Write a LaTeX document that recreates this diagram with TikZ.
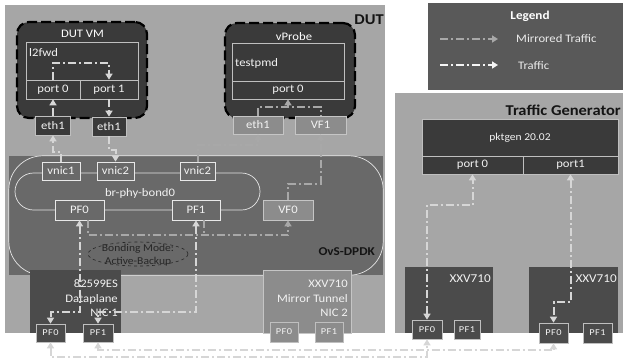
\documentclass[tikz,border=0pt]{standalone}
\usepackage{fontspec}
\setmainfont[FakeStretch=1.1]{Carlito}
\newfontfamily\pffont[FakeStretch=1.15,LetterSpace=6]{Carlito}
\usetikzlibrary{arrows.meta,calc,shapes.geometric}
\definecolor{bglight}{HTML}{A6A6A6}
\definecolor{ovsgray}{HTML}{696969}
\definecolor{darkbox}{HTML}{3A3A3A}
\definecolor{nicdark}{HTML}{4B4B4B}
\definecolor{midbox}{HTML}{8C8C8C}
\definecolor{legendgray}{HTML}{595959}
\definecolor{boxline}{HTML}{BFBFBF}
\definecolor{trafficc}{HTML}{D6D6D6}
\definecolor{mirrorc}{HTML}{A8A8A8}
\definecolor{txtlight}{HTML}{F2F2F2}
\tikzset{
  tri/.tip={Triangle[length=6pt,width=7pt]},
  panel/.style={draw=none, inner sep=0pt},
  base/.style={draw=boxline, line width=0.7pt, inner sep=0pt, text=txtlight,
    font=\fontsize{11.5}{13}\selectfont},
  dbox/.style={base, fill=darkbox},
  nbox/.style={base, fill=nicdark},
  mbox/.style={base, fill=midbox, draw=boxline!90!white},
  obox/.style={base, fill=ovsgray, draw=white!82!gray},
  pfbox/.style={base, font=\pffont\fontsize{9}{10}\selectfont},
  vmbox/.style={draw=black, line width=2.2pt, dash pattern=on 10pt off 4pt,
    fill=darkbox, rounded corners=12pt, inner sep=0pt},
  hdr/.style={font=\bfseries\fontsize{15}{17}\selectfont, text=black!92, inner sep=0pt},
  ltxt/.style={text=txtlight, font=\fontsize{11.5}{13}\selectfont, inner sep=0pt},
  trf/.style={draw=trafficc, line width=2pt, dash pattern=on 8pt off 3pt on 2pt off 3pt},
  mir/.style={draw=mirrorc, line width=2pt, dash pattern=on 8pt off 3pt on 2pt off 3pt},
}
\begin{document}
\begin{tikzpicture}[x=1pt,y=-1pt]
\useasboundingbox (0,0) rectangle (623,360);
\fill[white] (0,0) rectangle (623,360);

% panels
\node[panel, fill=bglight, minimum width=380pt, minimum height=328pt] (dut) at (195,169) {};
\node[panel, fill=legendgray, minimum width=202pt, minimum height=87pt] (legend) at (529,46.5) {};
\node[panel, fill=bglight, minimum width=235pt, minimum height=240pt] (tg) at (512.5,213) {};

\node[hdr, anchor=east] (dutlbl) at (384,20) {DUT};
\node[hdr, anchor=east] (tglbl) at (621,110) {Traffic Generator};

% legend
\node[font=\bfseries\fontsize{12}{13}\selectfont, text=white, inner sep=0pt] (legtitle) at (530,16) {Legend};
\coordinate (lmA) at (440,39);
\coordinate (lmB) at (498,39);
\coordinate (ltA) at (440,65);
\coordinate (ltB) at (498,65);
\draw[mir, -tri] (lmA) -- (lmB);
\draw[trf, draw=white!92!gray, -tri] (ltA) -- (ltB);
\node[ltxt, text=white!85!gray, anchor=west] (lmtxt) at (516,39) {Mirrored Traffic};
\node[ltxt, text=white!85!gray, anchor=west] (lttxt) at (518,66) {Traffic};

% DUT VM
\node[vmbox, minimum width=130pt, minimum height=96pt] (vm) at (82,70) {};
\node[ltxt, text=white] (vmlbl) at (82.5,34) {DUT VM};
\node[dbox, minimum width=112pt, minimum height=38pt] (l2fwd) at (82,61) {};
\node[ltxt, anchor=west] (l2lbl) at (29,53) {l2fwd};
\node[dbox, minimum width=54pt, minimum height=19pt] (vp0) at (53,89.5) {port 0};
\node[dbox, minimum width=58pt, minimum height=19pt] (vp1) at (109,89.5) {port 1};
\node[dbox, minimum width=35pt, minimum height=19pt] (eth1a) at (53,125.5) {eth1};
\node[dbox, minimum width=34pt, minimum height=19pt] (eth1b) at (109,126.5) {eth1};

% vProbe
\node[vmbox, minimum width=130pt, minimum height=95pt] (vprobe) at (290,70.5) {};
\node[ltxt, text=white] (vplbl) at (294,37) {vProbe};
\node[dbox, minimum width=112pt, minimum height=38pt] (testpmd) at (288,62) {};
\node[ltxt, anchor=west] (tplbl) at (235,63) {testpmd};
\node[dbox, minimum width=112pt, minimum height=18pt] (vport0) at (288,90) {port 0};
\node[mbox, minimum width=50pt, minimum height=18pt] (veth1) at (258,125) {eth1};
\node[mbox, minimum width=51pt, minimum height=18pt] (vf1) at (320.5,125) {VF1};

% OvS-DPDK
\node[panel, fill=ovsgray, minimum width=374pt, minimum height=119pt] (ovs) at (196,215.5) {};
\draw[white!80!gray, line width=0.7pt, rounded corners=34pt] (ovs.north west) rectangle (ovs.south east);
\node[draw=white!80!gray, line width=0.7pt, rounded corners=18.5pt, minimum width=245pt, minimum height=37pt, inner sep=0pt] (bond) at (137.5,191.5) {};
\node[ltxt] (bondlbl) at (140,193) {br-phy-bond0};
\node[obox, minimum width=38pt, minimum height=18pt] (vnic1) at (61,171) {vnic1};
\node[obox, minimum width=37pt, minimum height=18pt] (vnic2a) at (115.5,171) {vnic2};
\node[obox, minimum width=35pt, minimum height=18pt] (vnic2b) at (197.5,171) {vnic2};
\node[obox, minimum width=49pt, minimum height=20pt] (opf0) at (79.5,210) {PF0};
\node[obox, minimum width=48pt, minimum height=20pt] (opf1) at (196,210) {PF1};
\node[mbox, minimum width=50pt, minimum height=20pt] (vf0) at (288,210) {VF0};
\node[font=\bfseries\fontsize{12}{13}\selectfont, text=black!92, anchor=east, inner sep=0pt] (ovslbl) at (375,252) {OvS-DPDK};
\node[ellipse, draw=black!85, line width=0.6pt, dashed, minimum width=100pt, minimum height=24pt, inner sep=0pt] (bondmode) at (138,254) {};
\node[align=center, text=black!85, font=\fontsize{10.5}{13}\selectfont, inner sep=0pt] (bmtxt) at (138,255) {Bonding Mode:\\Active-Backup};

% NICs in DUT
\node[panel, fill=nicdark, minimum width=91pt, minimum height=63pt] (nic1) at (75.5,301.5) {};
\node[ltxt, align=right, anchor=east, font=\fontsize{11.5}{14.5}\selectfont] (nic1lbl) at (118,298.5) {82599ES\\Dataplane\\NIC 1};
\node[nbox, pfbox, minimum width=29pt, minimum height=18pt] (n1pf0) at (50.5,333) {PF0};
\node[nbox, pfbox, minimum width=30pt, minimum height=18pt] (n1pf1) at (98,333) {PF1};

\node[panel, fill=midbox, draw=boxline!90!white, line width=0.6pt, minimum width=88pt, minimum height=63pt] (nic2) at (307,301.5) {};
\node[ltxt, align=right, anchor=east, font=\fontsize{11.5}{14.5}\selectfont] (nic2lbl) at (348,298.5) {XXV710\\Mirror Tunnel\\NIC 2};
\node[mbox, pfbox, minimum width=28pt, minimum height=20pt] (n2pf0) at (284,332) {PF0};
\node[mbox, pfbox, minimum width=28pt, minimum height=20pt] (n2pf1) at (329,332) {PF1};

% Traffic generator
\node[dbox, minimum width=196pt, minimum height=37pt, font=\fontsize{10.5}{12}\selectfont] (pktgen) at (520,137.5) {pktgen 20.02};
\node[dbox, minimum width=101pt, minimum height=18pt] (tport0) at (472.5,165) {port 0};
\node[dbox, minimum width=95pt, minimum height=18pt] (tport1) at (570.5,165) {port1};
\node[panel, fill=nicdark, minimum width=88pt, minimum height=66pt] (xxvl) at (449,300) {};
\node[ltxt, anchor=east, font=\fontsize{12}{13}\selectfont] (xxvllbl) at (491,279) {XXV710};
\node[nbox, pfbox, minimum width=30pt, minimum height=19pt] (tlpf0) at (427,329.5) {PF0};
\node[nbox, pfbox, minimum width=26pt, minimum height=19pt] (tlpf1) at (467,329.5) {PF1};
\node[panel, fill=nicdark, minimum width=89pt, minimum height=66pt] (xxvr) at (573.5,300) {};
\node[ltxt, anchor=east, font=\fontsize{12}{13}\selectfont] (xxvrlbl) at (617,279) {XXV710};
\node[nbox, pfbox, minimum width=29pt, minimum height=20pt] (trpf0) at (553.5,333) {PF0};
\node[nbox, pfbox, minimum width=29pt, minimum height=20pt] (trpf1) at (597.5,333) {PF1};

% ---- connectors: traffic
\draw[trf, tri-tri] (n1pf0.south) -- ++(0,15) -| (tlpf0.south);
\draw[trf, tri-tri] (n1pf1.south) -- ++(0,8) -| (trpf0.south);
\draw[trf, tri-tri] (tlpf0.north) -- ++(0,-115) -| (tport0.south);
\draw[trf, tri-tri] (tport1.south) -- ++(0,128) -| (trpf0.north);
\draw[trf, tri-tri] (opf0.south) -- ++(0,92) -| (n1pf0.north);
\draw[trf, tri-tri] (opf1.south) -- ++(0,92) -| (n1pf1.north);
\draw[trf, -tri] (vnic1.north) -- ++(0,-10) -| (eth1a.south);
\draw[trf, -tri] (eth1b.south) -- ++(0,14) -| (vnic2a.north);
\draw[trf, -tri] (eth1a.north) -- (vp0.south);
\draw[trf, -tri] (vp1.south) -- (eth1b.north);
\draw[trf, -tri] (vp0.north) -- ++(0,-17) -| (vp1.north);

% ---- connectors: mirrored
\draw[mir, -tri] ([xshift=8pt]opf0.south) -- ++(0,15) -| (vf0.south);
\draw[mir] ([xshift=8pt]opf1.south) -- ++(0,15);
\draw[mir, -tri] (vf0.north) -- ++(0,-16) -| (vf1.south);
\draw[mir] (veth1.north) -- ++(0,-9) -| (vf1.north);
\draw[mir, -tri] ([yshift=-8pt]vport0.south) -- (vport0.south);
\draw[mir, -tri] (vnic2b.north) -- ++(0,-17) -| (veth1.south);
\end{tikzpicture}
\end{document}
